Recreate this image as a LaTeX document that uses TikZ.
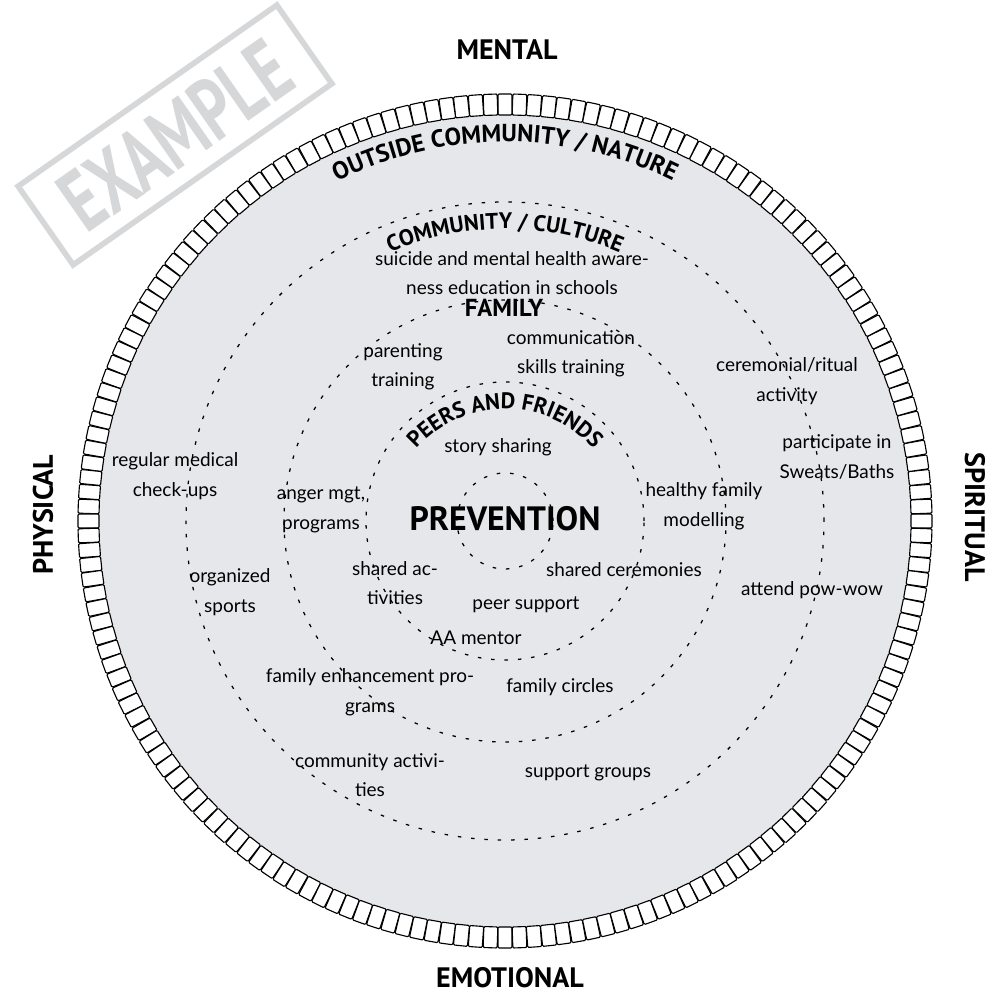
\documentclass[tikz,border=0pt]{standalone}
\usepackage{fontspec}
\setmainfont{PT Sans}
\newfontfamily\handfont{Lato}
\newfontfamily\headfont{PT Sans}
\usetikzlibrary{decorations.text}
\definecolor{discgrey}{RGB}{229,231,234}
\definecolor{stampgrey}{RGB}{214,215,217}
\newcommand\arcfont{\headfont\bfseries\fontsize{17.5}{17.5}\selectfont}
\newcommand\peerfont{\headfont\bfseries\fontsize{16}{16}\selectfont}

\begin{document}
\begin{tikzpicture}[scale=0.025,
    hand/.style={font=\handfont\fontsize{13.5}{21}\selectfont, align=center, inner sep=0pt},
    head/.style={font=\arcfont, inner sep=0pt},
    side/.style={font=\headfont\bfseries\fontsize{20}{20}\selectfont, inner sep=0pt},
    ring/.style={line width=0.9pt, dash pattern=on 2.5pt off 7pt},
    bead/.style={draw=black, fill=white, line width=0.8pt, rounded corners=0.8pt}]
    %%Background
    \draw[draw=none] (-505,-476) rectangle (487,521);
    %%Stamp
    \draw[stampgrey, line width=4pt, rotate around={35:(-330,386)}] (-488,338) rectangle (-172,434);
    \node[text=stampgrey, font=\headfont\bfseries\fontsize{62}{62}\selectfont, rotate=35, inner sep=0pt] (stamp) at (-330,386) {\scalebox{0.72}[1]{EXAMPLE}};

    %%Disc and beads
    \fill[discgrey] (0,0) circle (416);
    \foreach \a in {0,2,...,358}
        \draw[bead, rotate=\a] (406,-7) rectangle (427,7);

    %%Dotted rings
    \foreach \r in {48,139,221,319}
        \draw[ring] (0,0) circle (\r);

    %%Arc titles
    \path[decorate, decoration={text along path, text align=center,
        text={|\arcfont|OUTSIDE COMMUNITY / NATURE}}] (160:379) arc (160:20:379);
    \path[decorate, decoration={text along path, text align=center,
        text={|\peerfont|COMMUNITY / CULTURE}}] (160:292) arc (160:20:292);
    \path[shift={(0,-6)}, decorate, decoration={text along path, text align=center,
        text={|\peerfont|PEERS AND FRIENDS}}] (170:118) arc (170:10:118);

    \node[font=\headfont\bfseries\fontsize{24}{24}\selectfont, inner sep=0pt] (prevention) at (0,2) {PREVENTION};
    \node[head] (family) at (-1,213) {FAMILY};

    %%Directions
    \node[side] (mental) at (2,471) {MENTAL};
    \node[side] (emotional) at (5,-457) {EMOTIONAL};
    \node[side, rotate=90] (physical) at (-462,6) {PHYSICAL};
    \node[side, rotate=-90] (spiritual) at (470,4) {SPIRITUAL};

    %%Activities
    \draw
    (7,248) node[hand] (suicide) {suicide and mental health aware-\\ness education in schools}
    (-330,45) node[hand] (medical) {regular medical\\check-ups}
    (-275,-71) node[hand] (sports) {organized\\sports}
    (-135,-171) node[hand] (enhance) {family enhancement pro-\\grams}
    (-135,-254) node[hand] (commact) {community activi-\\ties}
    (83,-252) node[hand] (support) {support groups}
    (282,140) node[hand] (ritual) {ceremonial/ritual\\activity}
    (332,64) node[hand] (sweats) {participate in\\Sweats/Baths}
    (307,-69) node[hand] (powwow) {attend pow-wow}
    (-102,154) node[hand] (parenting) {parenting\\training}
    (66,167) node[hand] (skills) {communication\\skills training}
    (-184,11) node[hand] (anger) {anger mgt,\\programs}
    (199,15) node[hand] (modelling) {healthy family\\modelling}
    (-110,-62) node[hand] (sharedact) {shared ac-\\tivities}
    (119,-49) node[hand] (sharedcer) {shared ceremonies}
    (55,-166) node[hand] (circles) {family circles}
    (-7,74) node[hand] (story) {story sharing}
    (21,-84) node[hand] (peer) {peer support}
    (-29,-117) node[hand] (mentor) {AA mentor}
    ;
\end{tikzpicture}
\end{document}
